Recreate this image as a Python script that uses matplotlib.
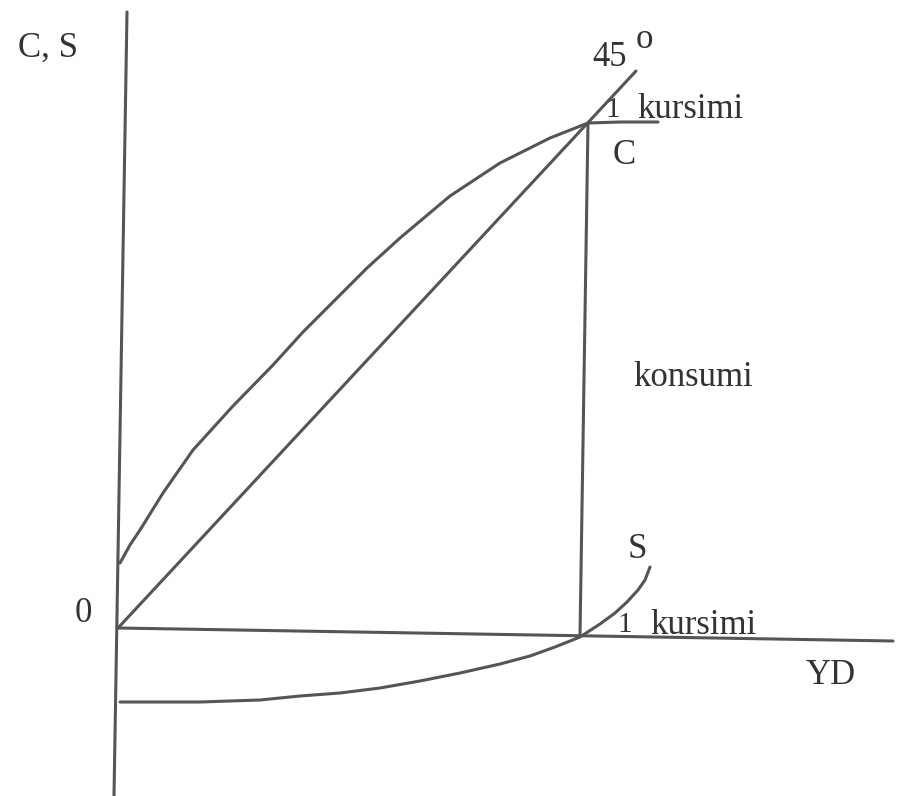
import matplotlib.pyplot as plt

plt.rcParams['font.family'] = ['Liberation Serif', 'DejaVu Serif']

# axes (origin at 0,0, hand-drawn so slightly tilted)
y_axis_x = [9, -4]
y_axis_y = [616, -168]
x_axis_x = [0, 775]
x_axis_y = [0, -13]

# 45 degree line
line45_x = [0, 518]
line45_y = [0, 557]

# consumption curve C
c_x = [2, 12, 22, 45, 75, 115, 155, 185, 212, 249, 282, 332, 382, 432, 470, 502, 540]
c_y = [65, 83, 98, 135, 178, 222, 263, 296, 323, 360, 390, 432, 465, 490, 505, 506, 506]

# saving curve S
s_x = [2, 82, 142, 182, 222, 262, 302, 342, 382, 412, 437, 462, 482, 497, 509, 520, 527, 532]
s_y = [-74, -74, -72, -68, -65, -60, -53, -45, -36, -28, -19, -9, 4, 15, 26, 38, 48, 61]

# vertical line at break-even income
v_x = [470, 462]
v_y = [505, -8]

col = '#555555'
fig = plt.figure(figsize=(9, 7.96), dpi=100)
ax = fig.add_axes([0, 0, 1, 1])
ax.set_xlim(-118, 782)
ax.set_ylim(-168, 628)
ax.axis('off')

for xs, ys in [(y_axis_x, y_axis_y), (x_axis_x, x_axis_y), (line45_x, line45_y),
               (c_x, c_y), (s_x, s_y), (v_x, v_y)]:
    ax.plot(xs, ys, color=col, lw=2.2, solid_capstyle='round', solid_joinstyle='round')

tc = '#333333'
fs = 25
ax.text(-100, 580, "C, S", fontsize=fs, color=tc, va='center', ha='left')
ax.text(-35, 15, "0", fontsize=fs, color=tc, va='center', ha='center')
ax.text(474, 570, "45", fontsize=fs, color=tc, va='center', ha='left')
ax.text(526, 588, "o", fontsize=fs, color=tc, va='center', ha='center')
ax.text(495, 518, "1", fontsize=fs - 4, color=tc, va='center', ha='center')
ax.text(519, 518, "kursimi", fontsize=fs, color=tc, va='center', ha='left')
ax.text(506, 472, "C", fontsize=fs, color=tc, va='center', ha='center')
ax.text(575, 250, "konsumi", fontsize=fs, color=tc, va='center', ha='center')
ax.text(519, 78, "S", fontsize=fs, color=tc, va='center', ha='center')
ax.text(507, 3, "1", fontsize=fs - 4, color=tc, va='center', ha='center')
ax.text(532, 3, "kursimi", fontsize=fs, color=tc, va='center', ha='left')
ax.text(713, -48, "YD", fontsize=fs, color=tc, va='center', ha='center')

fig.savefig("out.png", dpi=100, facecolor='white')
